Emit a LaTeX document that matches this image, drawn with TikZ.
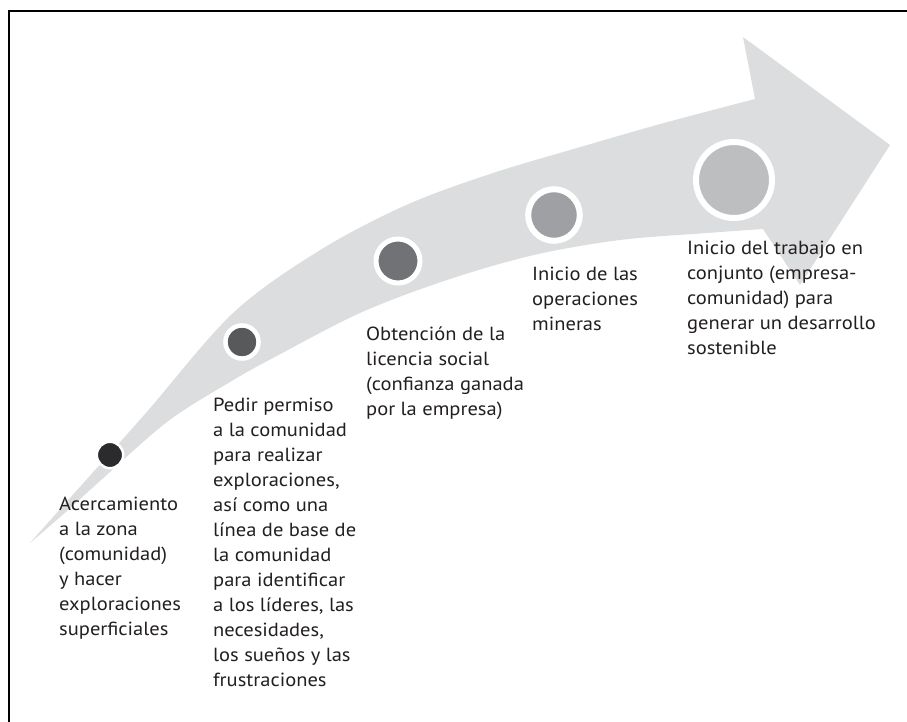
\documentclass[tikz,border=0pt]{standalone}
\usepackage{fontspec}
\setmainfont{PT Sans}[FakeStretch=1.08]
\definecolor{arrowgray}{HTML}{DCDDDE}
\definecolor{txt}{HTML}{231F20}
\definecolor{cA}{HTML}{2B2A2C}
\definecolor{cB}{HTML}{58595B}
\definecolor{cC}{HTML}{717275}
\definecolor{cD}{HTML}{9FA0A3}
\definecolor{cE}{HTML}{BCBEC0}
\newcommand\rows[1]{\vtop{\baselineskip=25pt\lineskiplimit=-20pt\halign{##\hfil\cr#1\crcr}}}
\begin{document}
\begin{tikzpicture}[x=1pt,y=-1pt,
  lbl/.style={anchor=base west, inner sep=0pt, font=\fontsize{19}{25}\selectfont, text=txt},
  dot/.style={circle, draw=white, inner sep=0pt}]
\useasboundingbox (0,0) rectangle (907,722);
\fill[white] (0,0) rectangle (907,722);
\draw[line width=2pt, line cap=rect] (8.5,722) -- (8.5,11.5) -- (907,11.5);
% arrow
\fill[arrowgray]
  plot[smooth, tension=0.55] coordinates {(30,543) (70,498) (145,414) (232,314) (317,252) (404,206) (490,174) (577,148) (664,123) (755,99)}
  -- (743,37) -- (890,145) -- (800,285) -- (763,229)
  -- plot[smooth, tension=0.55] coordinates {(763,229) (707,233) (620,240) (534,255) (447,280) (360,313) (273,358) (230,382) (167,422) (100,481) (67,511) (30,543)}
  -- cycle;
% dots
\node[dot, fill=cA, line width=2.5pt, minimum size=26.4pt] (s1) at (110,455) {};
\node[dot, fill=cB, line width=4.5pt, minimum size=33.1pt] (s2) at (242,342) {};
\node[dot, fill=cC, line width=5pt, minimum size=44pt] (s3) at (398,261) {};
\node[dot, fill=cD, line width=6pt, minimum size=51.6pt] (s4) at (554,215) {};
\node[dot, fill=cE, line width=6pt, minimum size=76pt] (s5) at (734,180) {};
% labels
\node[lbl] (t1) at (59,510) {\rows{Acercamiento\cr a la zona\cr (comunidad)\cr y hacer\cr exploraciones\cr superficiales}};
\node[lbl] (t2) at (213,411) {\rows{Pedir permiso\cr a la comunidad\cr para realizar\cr exploraciones,\cr así como una\cr línea de base de\cr la comunidad\cr para identificar\cr a los líderes, las\cr necesidades,\cr los sueños y las\cr frustraciones}};
\node[lbl] (t3) at (366,340) {\rows{Obtención de la\cr licencia social\cr (confianza ganada\cr por la empresa)}};
\node[lbl] (t4) at (532,280) {\rows{Inicio de las\cr operaciones\cr mineras}};
\node[lbl] (t5) at (687,254) {\rows{Inicio del trabajo en\cr conjunto (empresa-\cr comunidad) para\cr generar un desarrollo\cr sostenible}};
\end{tikzpicture}
\end{document}
